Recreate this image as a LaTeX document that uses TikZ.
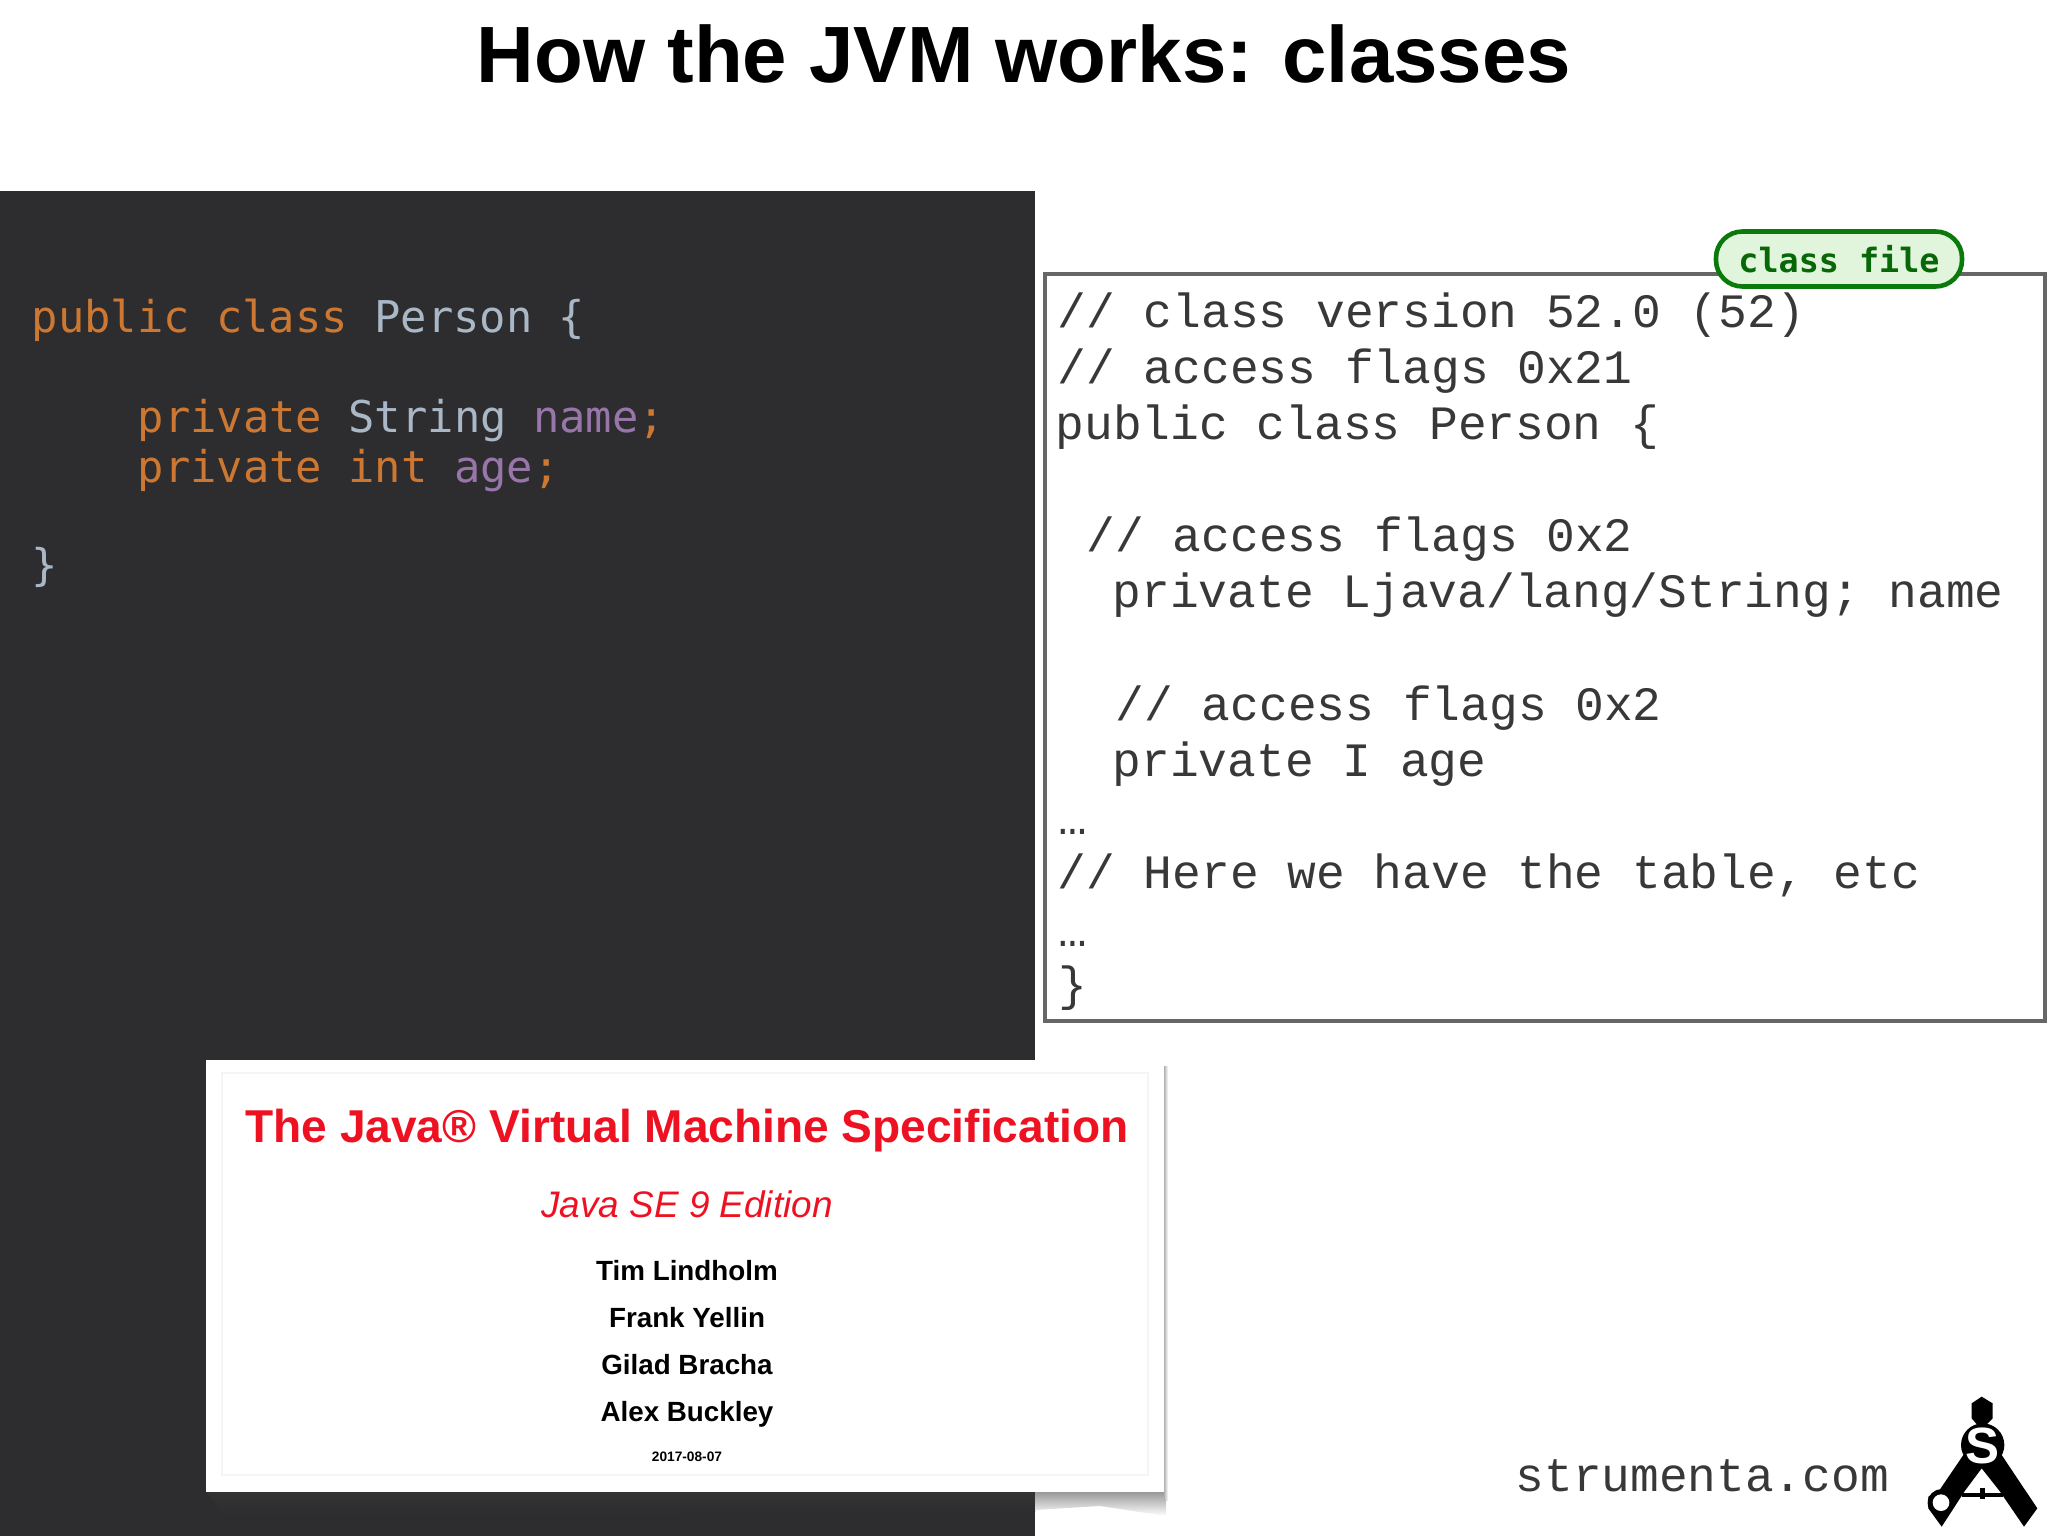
\documentclass[tikz,border=0pt]{standalone}
\usepackage{fontspec}
\setmainfont{Liberation Sans}
\newfontfamily\codefont{DejaVu Sans Mono}
\newfontfamily\thinfont{Liberation Mono}
\definecolor{panelgray}{HTML}{2D2C2E}
\definecolor{keyorange}{HTML}{CC7832}
\definecolor{typeblue}{HTML}{A9B7C6}
\definecolor{fieldpurple}{HTML}{9876AA}
\definecolor{specred}{HTML}{EE1122}
\definecolor{tagfill}{HTML}{E0F5DC}
\definecolor{tagline}{HTML}{0A7A0A}
\tikzset{
        txt/.style = {anchor = base, inner sep = 0pt},
        darkcode/.style = {txt, anchor = base west, font = \codefont\fontsize{12.45}{15}\selectfont},
        lightcode/.style = {txt, anchor = base west, text = black!78, font = \thinfont\fontsize{13.62}{16}\selectfont},
        authorname/.style = {txt, font = \bfseries\fontsize{7.9}{10}\selectfont}
}
\begin{document}
\begin{tikzpicture}[x = 0.01cm, y = -0.01cm]
        \useasboundingbox (0, 0) rectangle (2048, 1536);
        \fill[panelgray] (0, 191) rectangle (1035, 1536);
        \node[txt, font = \bfseries\fontsize{22.7}{26}\selectfont] (title) at (1024, 82) {How the JVM works: classes};

        \node[darkcode, text = keyorange] (srcclass) at (31, 332) {public class \textcolor{typeblue}{Person \{}};
        \node[darkcode, text = keyorange] (srcname) at (137, 432) {private \textcolor{typeblue}{String} \textcolor{fieldpurple}{name};};
        \node[darkcode, text = keyorange] (srcage) at (137, 482) {private int \textcolor{fieldpurple}{age};};
        \node[darkcode, text = typeblue] (srcend) at (31, 580) {\}};

        \draw[line width = 1.1pt, draw = black!60, fill = white] (1045, 274) rectangle (2045, 1021);
        \node[lightcode] (version) at (1057, 327) {// class version 52.0 (52)};
        \node[lightcode] (flags) at (1057, 383) {// access flags 0x21};
        \node[lightcode] (pubclass) at (1055, 439) {public class Person \{};
        \node[lightcode] (nameflags) at (1086, 551) {// access flags 0x2};
        \node[lightcode] (namefield) at (1112, 607) {private Ljava/lang/String; name};
        \node[lightcode] (ageflags) at (1115, 720) {// access flags 0x2};
        \node[lightcode] (agefield) at (1112, 776) {private I age};
        \node[lightcode] (dotsone) at (1058, 834) {…};
        \node[lightcode] (tablenote) at (1057, 888) {// Here we have the table, etc};
        \node[lightcode] (dotstwo) at (1058, 946) {…};
        \node[lightcode] (closing) at (1058, 1000) {\}};

        \node[draw = tagline, fill = tagfill, line width = 1.3pt, rounded corners = 7.5pt, minimum width = 246 * 0.01cm, minimum height = 55 * 0.01cm, inner sep = 0pt, text = tagline!85!black, font = \codefont\bfseries\fontsize{9.5}{11}\selectfont] (tag) at (1839, 259) {class file};

        \shade[top color = black!80, bottom color = panelgray] (206, 1492) -- (1035, 1492) -- (1035, 1512) -- (225, 1516) -- cycle;
        \shade[top color = black!40, bottom color = white] (1035, 1492) -- (1166, 1492) -- (1166, 1516) -- (1100, 1506) -- (1035, 1510) -- cycle;
        \shade[left color = black!30, right color = white] (1164, 1066) rectangle (1168, 1500);
        \fill[white] (206, 1060) rectangle (1164, 1492);
        \draw[black!4] (222, 1073) rectangle (1148, 1475);

        \node[txt, text = specred, font = \bfseries\fontsize{13.1}{16}\selectfont] (spectitle) at (687, 1142) {The Java® Virtual Machine Specification};
        \node[txt, text = specred, font = \itshape\fontsize{10.5}{12}\selectfont] (edition) at (687, 1217) {Java SE 9 Edition};
        \node[authorname] (tim) at (687, 1280) {Tim Lindholm};
        \node[authorname] (frank) at (687, 1327) {Frank Yellin};
        \node[authorname] (gilad) at (687, 1374) {Gilad Bracha};
        \node[authorname] (alex) at (687, 1421) {Alex Buckley};
        \node[txt, font = \bfseries\fontsize{3.9}{5}\selectfont] (specdate) at (687, 1461) {2017-08-07};

        \node[lightcode, font = \thinfont\fontsize{13.6}{16}\selectfont] (site) at (1515, 1491) {strumenta.com};

        \begin{scope}[shift = {(1900, 1380)}, scale = 1/3]
                \fill (245, 50) -- (278, 70) -- (278, 115) -- (258, 135) -- (232, 135) -- (215, 115) -- (215, 70) -- cycle;
                \fill (248, 195) circle (65);
                \fill (190, 225) -- (305, 225) -- (412, 385) -- (372, 440) -- (298, 332) -- (245, 265) -- (195, 332) -- (125, 440) -- (85, 385) -- (85, 350) -- (120, 328) -- cycle;
                \fill (123, 368) circle (40);
                \fill[white] (123, 368) circle (25);
                \fill (185, 338) rectangle (310, 350);
                \fill (240, 325) rectangle (256, 358);
                \node[txt, anchor = center, text = white, font = \bfseries\fontsize{14.5}{16}\selectfont] (logoletter) at (248, 198) {S};
        \end{scope}
\end{tikzpicture}
\end{document}
